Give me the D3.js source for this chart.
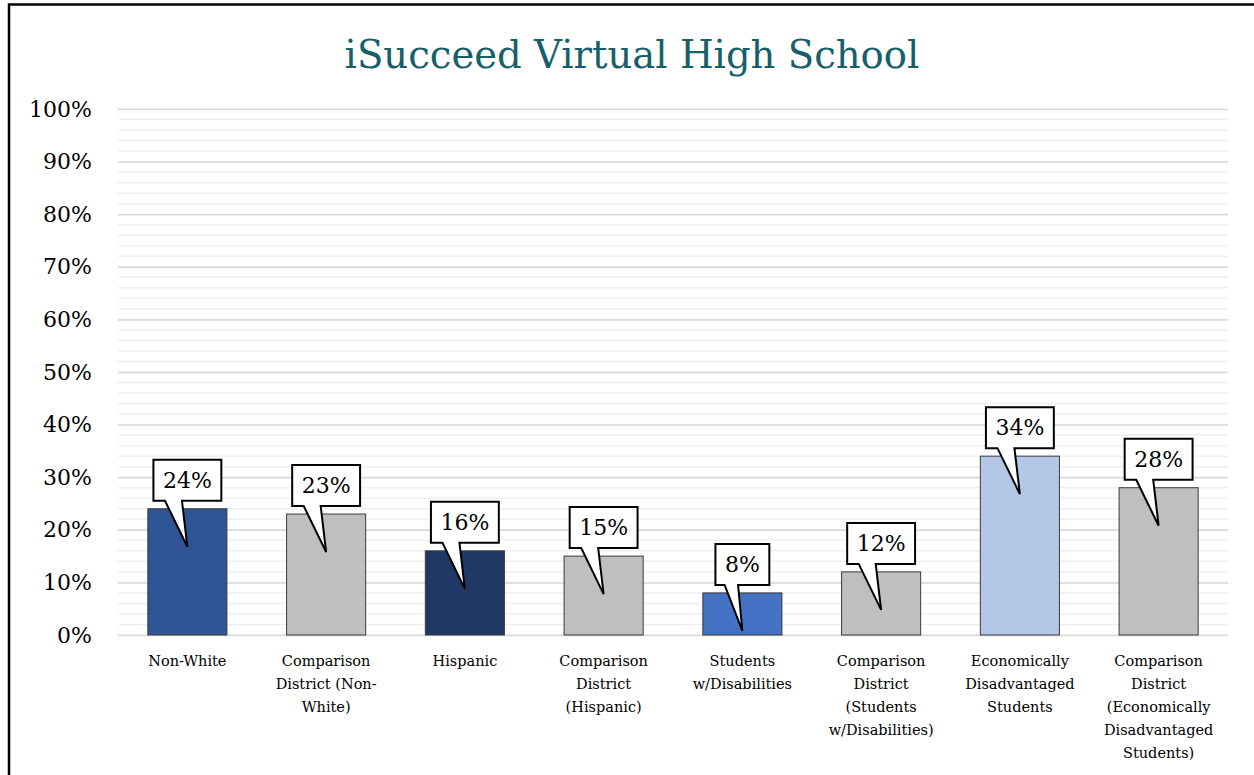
<!DOCTYPE html>
<html>
<head>
<meta charset="utf-8">
<script src="https://cdn.jsdelivr.net/npm/d3@7"></script>
<style>
    body { margin: 0; background: #fff; }
    text { font-family: "DejaVu Serif", serif; }
</style>
</head>
<body>
<script>
window.onload = main;

// data
const categories = [
    'Non-White',
    'Comparison District (Non-White)',
    'Hispanic',
    'Comparison District (Hispanic)',
    'Students w/Disabilities',
    'Comparison District (Students w/Disabilities)',
    'Economically Disadvantaged Students',
    'Comparison District (Economically Disadvantaged Students)'
];
// wrapped tick labels, as they appear under the bars
const categoryLines = [
    ['Non-White'],
    ['Comparison', 'District (Non-', 'White)'],
    ['Hispanic'],
    ['Comparison', 'District', '(Hispanic)'],
    ['Students', 'w/Disabilities'],
    ['Comparison', 'District', '(Students', 'w/Disabilities)'],
    ['Economically', 'Disadvantaged', 'Students'],
    ['Comparison', 'District', '(Economically', 'Disadvantaged', 'Students)']
];
const values = [0.24, 0.23, 0.16, 0.15, 0.08, 0.12, 0.34, 0.28];
const barColors = ['#2f5597', '#bfbfbf', '#203864', '#bfbfbf', '#4472c4', '#bfbfbf', '#b4c7e7', '#bfbfbf'];
const yTicks = [0, 0.1, 0.2, 0.3, 0.4, 0.5, 0.6, 0.7, 0.8, 0.9, 1.0];
const yMinorTicks = d3.range(0, 1.0001, 0.02);

const svgWidth = 1254;
const svgHeight = 775;

const config = {
    plot: {L: 118, R: 1228, T: 109, B: 635},
    padding: 0.43,
    titleX: 632,
    titleY: 68,
    titleWidth: 575
}

function main() {
    const svg = d3.select('body')
        .append('svg')
        .attr('width', svgWidth)
        .attr('height', svgHeight);

    svg.append('rect')
        .attr('width', svgWidth).attr('height', svgHeight)
        .attr('fill', '#fff');

    // outer frame, cut by the picture edge on the right and bottom
    svg.append('rect')
        .attr('x', 9).attr('y', 4.5)
        .attr('width', 1400).attr('height', 900)
        .attr('fill', 'none')
        .attr('stroke', '#000')
        .attr('stroke-width', 2.5);

    const title = svg.append('text')
        .attr('x', config.titleX)
        .attr('y', config.titleY)
        .attr('text-anchor', 'middle')
        .attr('fill', '#175f6b')
        .style('font-size', '36px')
        .text('iSucceed Virtual High School');
    // fit the title to the width it has in the reference
    const tl = title.node().getComputedTextLength();
    title.style('font-size', (36 * config.titleWidth / tl) + 'px');

    draw_chart(svg);
}

function draw_chart(svg) {
    const p = config.plot;

    const scaleX = d3.scaleBand()
        .domain(categories)
        .range([p.L, p.R])
        .paddingInner(config.padding)
        .paddingOuter(config.padding / 2);

    const scaleY = d3.scaleLinear()
        .domain([0, 1])
        .range([p.B, p.T]);

    // minor grid
    svg.append('g')
        .selectAll('line')
        .data(yMinorTicks)
        .join('line')
        .attr('x1', p.L).attr('x2', p.R)
        .attr('y1', d => scaleY(d)).attr('y2', d => scaleY(d))
        .attr('stroke', '#efefef')
        .attr('stroke-width', 1.5);

    // major grid + labels
    const yAxis = svg.append('g')
        .attr('transform', `translate(${p.L},0)`)
        .call(d3.axisLeft(scaleY)
            .tickValues(yTicks)
            .tickFormat(d3.format('.0%'))
            .tickSize(-(p.R - p.L))
            .tickPadding(26));
    yAxis.select('.domain').remove();
    yAxis.selectAll('.tick line')
        .attr('stroke', '#d9d9d9')
        .attr('stroke-width', 1.5);
    yAxis.selectAll('.tick text')
        .attr('fill', '#000')
        .style('font-size', '22px')
        .style('font-family', '"DejaVu Serif", serif');

    // bars
    svg.append('g').classed('rects', true)
        .selectAll('rect')
        .data(categories)
        .join('rect')
        .attr('x', d => scaleX(d))
        .attr('y', (d, i) => scaleY(values[i]))
        .attr('width', scaleX.bandwidth())
        .attr('height', (d, i) => scaleY(0) - scaleY(values[i]))
        .attr('fill', (d, i) => barColors[i])
        .attr('stroke', '#3a3a3a')
        .attr('stroke-width', 1);

    // category labels
    const xl = svg.append('g')
        .selectAll('text')
        .data(categories)
        .join('text')
        .attr('text-anchor', 'middle')
        .attr('fill', '#000')
        .style('font-size', '14.5px');
    xl.each(function (d, i) {
        const cx = scaleX(d) + scaleX.bandwidth() / 2;
        d3.select(this).selectAll('tspan')
            .data(categoryLines[i])
            .join('tspan')
            .attr('x', cx)
            .attr('y', (t, j) => 666 + j * 23)
            .text(t => t);
    });

    // callout labels
    const fmt = d3.format('.0%');
    const callouts = svg.append('g').selectAll('g')
        .data(categories)
        .join('g');
    callouts.each(function (d, i) {
        const g = d3.select(this);
        const cx = scaleX(d) + scaleX.bandwidth() / 2;
        const top = scaleY(values[i]);
        const path = g.append('path');
        const txt = g.append('text')
            .attr('x', cx)
            .attr('y', top - 28.5)
            .attr('text-anchor', 'middle')
            .attr('dominant-baseline', 'central')
            .attr('fill', '#000')
            .style('font-size', '22px')
            .text(fmt(values[i]));
        const w = txt.node().getComputedTextLength() + 19;
        const x0 = cx - w / 2, x1 = cx + w / 2;
        const y0 = top - 49, y1 = top - 8;
        const tip = top + 38;
        path.attr('d', `M${x0},${y0}H${x1}V${y1}H${x0 + 0.42 * w}L${cx},${tip}L${x0 + 0.17 * w},${y1}H${x0}Z`)
            .attr('fill', '#fff')
            .attr('stroke', '#000')
            .attr('stroke-width', 2)
            .attr('stroke-linejoin', 'miter');
    });
}
</script>
</body>
</html>
